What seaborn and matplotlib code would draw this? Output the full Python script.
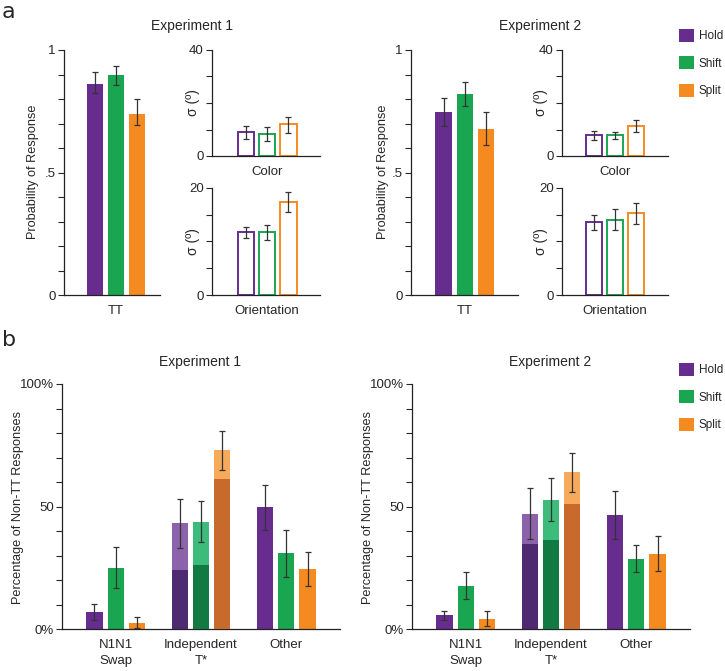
import matplotlib
matplotlib.use("Agg")
import matplotlib.pyplot as plt
import seaborn as sns
import numpy as np
import pandas as pd
from matplotlib.patches import Patch

sns.set_style("ticks")
plt.rcParams["font.family"] = ["Liberation Sans", "DejaVu Sans"]
plt.rcParams["font.size"] = 9

#---------- dados ----------
conditions = ["Hold", "Shift", "Split"]
colors = ["#662d8f", "#1aa650", "#f58b20"]
colors_light = ["#8c62aa", "#3dbb7a", "#f7aa5c"]
colors_dark = ["#4e2a70", "#117a42", "#c76a2c"]

# painel a: probabilidade de resposta (TT)
tt_exp1 = [0.862, 0.896, 0.740]
tt_exp1_lo = [0.823, 0.858, 0.693]
tt_exp1_hi = [0.909, 0.935, 0.799]
tt_exp2 = [0.747, 0.820, 0.679]
tt_exp2_lo = [0.689, 0.773, 0.611]
tt_exp2_hi = [0.805, 0.868, 0.746]

# sigma cor
col_exp1 = [8.9, 8.15, 12.0]
col_exp1_lo = [6.4, 5.5, 8.65]
col_exp1_hi = [11.2, 10.8, 14.9]
col_exp2 = [7.9, 7.9, 11.3]
col_exp2_lo = [6.0, 6.5, 8.9]
col_exp2_hi = [9.4, 9.0, 13.7]

# sigma orientacao
ori_exp1 = [11.7, 11.8, 17.4]
ori_exp1_lo = [10.6, 10.3, 15.5]
ori_exp1_hi = [12.65, 13.0, 19.2]
ori_exp2 = [13.6, 14.1, 15.25]
ori_exp2_lo = [12.2, 12.1, 13.25]
ori_exp2_hi = [14.9, 16.1, 17.2]

# painel b: porcentagem de respostas nao-TT
categories = ["N1N1\nSwap", "Independent\nT*", "Other"]
pct_exp1 = {"Hold": [6.9, 43.1, 49.7], "Shift": [25.0, 43.8, 30.9], "Split": [2.4, 72.9, 24.4]}
pct_exp1_lo = {"Hold": [3.7, 33.2, 40.5], "Shift": [16.9, 35.4, 21.4], "Split": [0.3, 65.0, 17.4]}
pct_exp1_hi = {"Hold": [10.2, 52.9, 58.9], "Shift": [33.3, 52.2, 40.3], "Split": [5.0, 80.8, 31.3]}
indep_dark_exp1 = [24.1, 26.1, 61.2]

pct_exp2 = {"Hold": [5.6, 46.9, 46.5], "Shift": [17.6, 52.8, 28.7], "Split": [4.2, 63.9, 30.7]}
pct_exp2_lo = {"Hold": [3.7, 36.6, 36.9], "Shift": [12.1, 44.1, 23.1], "Split": [1.2, 56.1, 23.8]}
pct_exp2_hi = {"Hold": [7.3, 57.4, 56.2], "Shift": [23.1, 61.5, 34.4], "Split": [7.3, 72.0, 37.8]}
indep_dark_exp2 = [34.7, 36.3, 51.2]

W, H = 725, 671
fig = plt.figure(figsize=(W / 100, H / 100), dpi=100)


def add_ax(x0, x1, y0, y1):
    return fig.add_axes([x0 / W, 1 - y1 / H, (x1 - x0) / W, (y1 - y0) / H])


def style_ax(ax, xpad=6):
    sns.despine(ax=ax)
    for s in ["left", "bottom"]:
        ax.spines[s].set_linewidth(0.9)
        ax.spines[s].set_color("#222222")
    ax.tick_params(axis="y", length=4, width=0.8, direction="out", pad=2, labelsize=9.5)
    ax.tick_params(axis="x", length=0, pad=xpad, labelsize=9.5)
    ax.set_xlabel("")


def draw_errors(ax, xs, lo, hi, vals):
    vals = np.array(vals)
    yerr = [vals - np.array(lo), np.array(hi) - vals]
    ax.errorbar(xs, vals, yerr=yerr, fmt="none", ecolor="#333333",
                elinewidth=0.9, capsize=2.2, capthick=0.9, zorder=5)


def small_bars(ax, label, vals, lo, hi, filled, ylim, ticks, ticklabels, xlim):
    df = pd.DataFrame({"cat": [label] * 3, "cond": conditions, "val": vals})
    sns.barplot(data=df, x="cat", y="val", hue="cond", hue_order=conditions,
                palette=colors, saturation=1, width=0.75, gap=0.24, legend=False,
                errorbar=None, linewidth=0, ax=ax)
    xs = []
    for i, cont in enumerate(list(ax.containers)):
        for p in cont.patches:
            xs.append(p.get_x() + p.get_width() / 2)
            if not filled:
                p.set_facecolor("white")
                p.set_edgecolor(colors[i])
                p.set_linewidth(1.4)
    draw_errors(ax, xs, lo, hi, vals)
    ax.set_ylim(*ylim)
    ax.set_xlim(*xlim)
    ax.set_yticks(ticks)
    ax.set_yticklabels(ticklabels)
    ax.set_ylabel("")
    style_ax(ax, xpad=7)


tt_ticks = np.round(np.arange(0, 1.01, 0.1), 1)
tt_labels = ["0", "", "", "", "", ".5", "", "", "", "", "1"]


def panel_a(title, tt, tt_lo, tt_hi, col, col_lo, col_hi, ori, ori_lo, ori_hi,
            tt_box, sm_box, tt_xlim, sm_xlim, title_x, ylab_x, sig_x):
    ax_tt = add_ax(tt_box[0], tt_box[1], 50, 295)
    small_bars(ax_tt, "TT", tt, tt_lo, tt_hi, True, (0, 1), tt_ticks, tt_labels, tt_xlim)
    ax_c = add_ax(sm_box[0], sm_box[1], 50, 156)
    small_bars(ax_c, "Color", col, col_lo, col_hi, False, (0, 40),
               [0, 10, 20, 30, 40], ["0", "", "", "", "40"], sm_xlim)
    ax_o = add_ax(sm_box[0], sm_box[1], 188, 295)
    small_bars(ax_o, "Orientation", ori, ori_lo, ori_hi, False, (0, 20),
               [0, 5, 10, 15, 20], ["0", "", "", "", "20"], sm_xlim)
    fig.text(ylab_x / W, 1 - 172 / H, "Probability of Response", rotation=90,
             ha="center", va="center", fontsize=9.2)
    fig.text(sig_x / W, 1 - 103 / H, "σ (º)", rotation=90, ha="center", va="center", fontsize=10)
    fig.text(sig_x / W, 1 - 242 / H, "σ (º)", rotation=90, ha="center", va="center", fontsize=10)
    fig.text(title_x / W, 1 - 26 / H, title, ha="center", va="center", fontsize=10)


panel_a("Experiment 1", tt_exp1, tt_exp1_lo, tt_exp1_hi, col_exp1, col_exp1_lo, col_exp1_hi,
        ori_exp1, ori_exp1_lo, ori_exp1_hi, (64, 160), (212, 320),
        (-0.61, 0.52), (-0.645, 0.62), 192, 33, 193)
panel_a("Experiment 2", tt_exp2, tt_exp2_lo, tt_exp2_hi, col_exp2, col_exp2_lo, col_exp2_hi,
        ori_exp2, ori_exp2_lo, ori_exp2_hi, (411, 518), (562, 668),
        (-0.63, 0.62), (-0.62, 0.62), 540, 383, 541)


def panel_b(x0, x1, pct, lo, hi, dark, title, title_x, ylab_x):
    ax = add_ax(x0, x1, 384, 629)
    rows = []
    for c in conditions:
        for k, cat in enumerate(categories):
            rows.append({"cat": cat, "cond": c, "val": pct[c][k]})
    df = pd.DataFrame(rows)
    sns.barplot(data=df, x="cat", y="val", hue="cond", order=categories,
                hue_order=conditions, palette=colors, saturation=1, width=0.75, gap=0.24,
                legend=False, errorbar=None, linewidth=0, ax=ax)
    bar_conts = list(ax.containers)
    for i, cont in enumerate(bar_conts):
        xs = []
        for k, p in enumerate(cont.patches):
            xs.append(p.get_x() + p.get_width() / 2)
            if k == 1:
                p.set_facecolor(colors_light[i])
                ax.bar(p.get_x(), dark[i], width=p.get_width(), align="edge",
                       color=colors_dark[i], linewidth=0, zorder=3)
        draw_errors(ax, xs, lo[conditions[i]], hi[conditions[i]], pct[conditions[i]])
    ax.set_ylim(0, 100)
    ax.set_xlim(-0.63, 2.63)
    ax.set_yticks(np.arange(0, 101, 10))
    ax.set_yticklabels(["0%", "", "", "", "", "50", "", "", "", "", "100%"])
    ax.set_ylabel("")
    style_ax(ax, xpad=7)
    for t in ax.get_xticklabels():
        t.set_linespacing(1.45)
    fig.text(ylab_x / W, 1 - 507 / H, "Percentage of Non-TT Responses", rotation=90,
             ha="center", va="center", fontsize=9.2)
    fig.text(title_x / W, 1 - 362 / H, title, ha="center", va="center", fontsize=10)


panel_b(62, 340, pct_exp1, pct_exp1_lo, pct_exp1_hi, indep_dark_exp1, "Experiment 1", 200, 18)
panel_b(412, 690, pct_exp2, pct_exp2_lo, pct_exp2_hi, indep_dark_exp2, "Experiment 2", 550, 368)

# legendas
handles = [Patch(facecolor=c, edgecolor="none") for c in colors]
for ytop in (29, 363):
    fig.legend(handles, conditions, loc="upper left", bbox_to_anchor=(679 / W, 1 - ytop / H),
               frameon=False, fontsize=8.5, handlelength=1.27, handleheight=1.27,
               labelspacing=1.2, handletextpad=0.4, borderpad=0, borderaxespad=0)

fig.text(2 / W, 1 - 2 / H, "a", ha="left", va="top", fontsize=16, family="DejaVu Sans")
fig.text(2 / W, 1 - 330 / H, "b", ha="left", va="top", fontsize=16, family="DejaVu Sans")

fig.savefig("out.png", dpi=100)
